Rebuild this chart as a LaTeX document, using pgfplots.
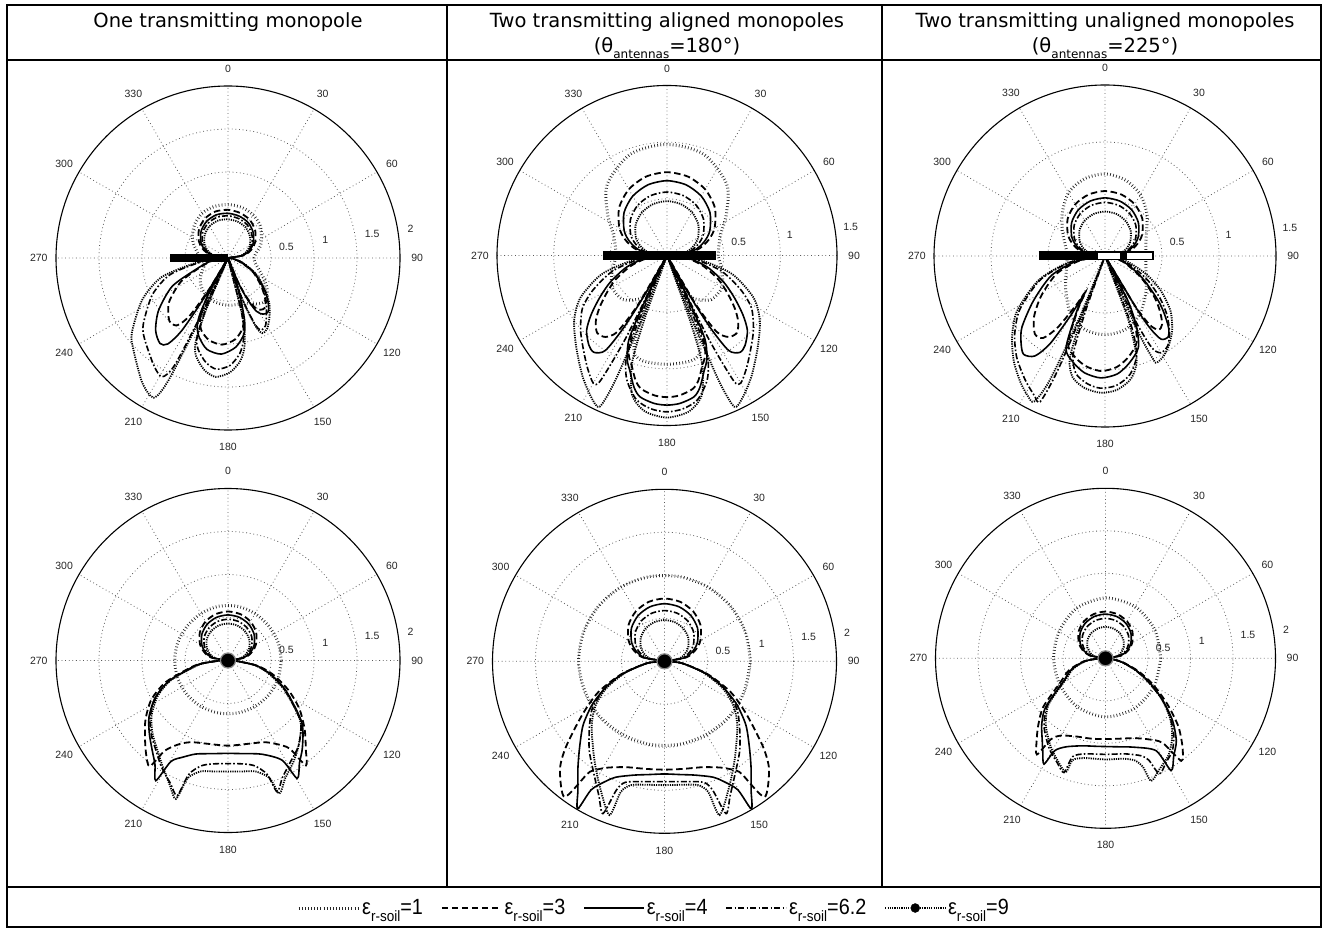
\documentclass[border=0pt]{standalone}
\usepackage{fontspec}
\usepackage{pgfplots}
\pgfplotsset{compat=1.18}
\usepgfplotslibrary{polar}
\setmainfont{Liberation Sans}
\newfontfamily\titlefont{DejaVu Sans}
\newfontfamily\narrowfont[FakeStretch=0.9]{Liberation Sans}
\tikzset{
  e1/.style={black!85, line width=3pt, dash pattern=on 0.7pt off 2.4pt, smooth, tension=0.5},
  e3/.style={black, line width=1.8pt, dash pattern=on 6.5pt off 3.5pt, smooth, tension=0.45},
  e4/.style={black, line width=1.6pt, smooth, tension=0.45},
  e62/.style={black, line width=1.6pt, dash pattern=on 6pt off 2.2pt on 1.6pt off 2.2pt, smooth, tension=0.45},
  e9/.style={black, line width=1.8pt, dash pattern=on 1.2pt off 1.1pt, smooth, tension=0.45},
  lbl/.style={font=\fontsize{10.5}{10.5}\selectfont, text=black!85, inner sep=0pt},
}
\pgfplotsset{
  pp/.style={
    anchor=center, scale only axis, clip=false,
    ymin=0, xtick={0,30,...,330},
    xticklabel={\phantom{0}}, yticklabel={\phantom{0}},
    major tick length=0pt,
    grid=major,
    major grid style={black!65, line width=0.8pt, dash pattern=on 0.8pt off 2.8pt},
    axis line style={black, line width=1.1pt},
    y axis line style={draw=none},
  },
}
\newcommand\anglelabels[1]{%
  \node[lbl] at (axis cs:90,#1) {0};
  \node[lbl] at (axis cs:60,#1) {30};
  \node[lbl] at (axis cs:30,#1) {60};
  \node[lbl] at (axis cs:0,#1) {90};
  \node[lbl] at (axis cs:330,#1) {120};
  \node[lbl] at (axis cs:300,#1) {150};
  \node[lbl] at (axis cs:270,#1) {180};
  \node[lbl] at (axis cs:240,#1) {210};
  \node[lbl] at (axis cs:210,#1) {240};
  \node[lbl] at (axis cs:180,#1) {270};
  \node[lbl] at (axis cs:150,#1) {300};
  \node[lbl] at (axis cs:120,#1) {330};
}
\newcommand\rlabelsTwo{%
  \node[lbl] at (axis cs:10.5,0.69) {0.5};
  \node[lbl] at (axis cs:10.3,1.15) {1};
  \node[lbl] at (axis cs:9.5,1.70) {1.5};
  \node[lbl] at (axis cs:9,2.15) {2};
}
\newcommand\rlabelsOneHalf{%
  \node[lbl] at (axis cs:11,0.645) {0.5};
  \node[lbl] at (axis cs:9.7,1.10) {1};
  \node[lbl] at (axis cs:8.7,1.64) {1.5};
}
\newcommand\esoil[1]{ε\raisebox{-0.32em}{\fontsize{15}{15}\selectfont r-soil}=#1}
\newcommand\thsub[1]{(θ\raisebox{-0.3em}{\fontsize{12}{12}\selectfont antennas}=#1°)}
\begin{document}
\begin{tikzpicture}
\path (0pt,0pt) rectangle (1324pt,930pt);
% frame
\draw[line width=1.5pt] (7pt,925pt) rectangle (1321pt,3pt);
\draw[line width=1.5pt] (7pt,870pt) -- (1321pt,870pt);
\draw[line width=1.5pt] (7pt,43pt) -- (1321pt,43pt);
\draw[line width=1.5pt] (447pt,925pt) -- (447pt,43pt);
\draw[line width=1.5pt] (882pt,925pt) -- (882pt,43pt);
% titles
\begin{scope}[every node/.style={font=\titlefont\fontsize{19.5}{19.5}\selectfont, inner sep=0pt, anchor=base}]
\node at (228pt,902pt) {One transmitting monopole};
\node at (667pt,902pt) {Two transmitting aligned monopoles};
\node at (667pt,877pt) {\thsub{180}};
\node at (1105pt,902pt) {Two transmitting unaligned monopoles};
\node at (1105pt,877pt) {\thsub{225}};
\end{scope}

% ================= A =================
\begin{polaraxis}[pp, at={(228pt,672pt)}, width=344pt, height=344pt, ymax=2, ytick={0.5,1,1.5}]
\addplot[e1] coordinates {(0,0.3) (10,0.33) (20,0.4) (30,0.45) (45,0.53) (60,0.58) (75,0.61) (90,0.62) (105,0.62) (120,0.6) (135,0.55) (150,0.48) (160,0.42) (170,0.36) (180,0.32) (190,0.3) (200,0.3) (210,0.36) (220,0.42) (230,0.47) (240,0.5) (250,0.53) (260,0.54) (270,0.55) (280,0.55) (290,0.56) (300,0.62) (310,0.66) (320,0.6) (330,0.48) (340,0.38) (350,0.32) (360,0.3)};
\addplot[e3] coordinates {(0,0) (10,0.196) (20,0.291) (30,0.364) (45,0.448) (60,0.51) (75,0.543) (90,0.56) (105,0.56) (120,0.532) (135,0.476) (150,0.392) (160,0.314) (170,0.207) (180,0) (190,0.19) (200,0.38) (207,0.62) (217,0.86) (227,1.0) (233,0.98) (236.5,0.8) (239,0.4) (240.3,0.02) (241.5,0.42) (243.5,0.68) (246,0.8) (250,0.9) (257,0.98) (266,1.01) (275,0.95) (282,0.83) (285,0.68) (287.5,0.42) (290.3,0.02) (292.5,0.28) (295,0.48) (298,0.64) (302,0.71) (307,0.72) (313,0.63) (319,0.52) (326,0.4) (333,0.3) (345,0.12) (355,0.03) (360,0)};
\addplot[e4] coordinates {(0,0) (10,0.182) (20,0.27) (30,0.338) (45,0.416) (60,0.473) (75,0.504) (90,0.52) (105,0.52) (120,0.494) (135,0.442) (150,0.364) (160,0.291) (170,0.192) (180,0) (190,0.2) (200,0.41) (207,0.73) (217,1.01) (225,1.19) (231.5,1.27) (235,1.22) (237.5,1.0) (239,0.55) (240.3,0.02) (241.5,0.45) (243.5,0.74) (246,0.88) (250,0.98) (257,1.09) (266,1.12) (275,1.04) (282,0.9) (285,0.74) (287.5,0.45) (290.3,0.02) (292.5,0.3) (295,0.52) (298,0.7) (302,0.77) (307,0.78) (313,0.68) (319,0.56) (326,0.42) (333,0.31) (345,0.13) (355,0.03) (360,0)};
\addplot[e62] coordinates {(0,0) (10,0.172) (20,0.255) (30,0.319) (45,0.392) (60,0.446) (75,0.475) (90,0.49) (105,0.49) (120,0.466) (135,0.417) (150,0.343) (160,0.274) (170,0.181) (180,0) (188,0.3) (196,0.7) (206,0.98) (218,1.25) (224,1.35) (235.5,1.52) (241,1.58) (243.5,1.4) (244.5,0.8) (245.5,0.02) (246.5,0.6) (248.5,0.98) (252,1.12) (258,1.24) (264,1.3) (271,1.25) (277,1.12) (281,0.95) (284,0.65) (286.5,0.02) (289,0.48) (292,0.82) (294.4,0.92) (299,0.9) (305,0.78) (312,0.66) (320,0.52) (330,0.36) (342,0.18) (355,0.04) (360,0)};
\addplot[e9] coordinates {(0,0) (10,0.158) (20,0.234) (30,0.293) (45,0.36) (60,0.41) (75,0.437) (90,0.45) (105,0.45) (120,0.428) (135,0.383) (150,0.315) (160,0.252) (170,0.167) (180,0) (188,0.35) (196,0.8) (206,1.11) (218,1.42) (224,1.53) (235.5,1.76) (242,1.84) (244,1.6) (245,0.9) (246,0.02) (247,0.65) (249,1.05) (252,1.2) (258,1.33) (264,1.39) (271,1.33) (277,1.2) (281,1.02) (284,0.7) (286.5,0.02) (289,0.5) (292,0.85) (294.4,0.96) (299,0.94) (305,0.84) (312,0.72) (320,0.56) (330,0.38) (342,0.18) (355,0.04) (360,0)};
\addplot[black, line width=8.5pt] coordinates {(180,0.67) (0,0)};
\anglelabels{2.2}
\rlabelsTwo
\end{polaraxis}

% ================= B =================
\begin{polaraxis}[pp, at={(667pt,674.5pt)}, width=340pt, height=340pt, ymax=1.5, ytick={0.5,1}]
\addplot[e1] coordinates {(0,0.45) (20,0.5) (35,0.64) (50,0.82) (70,0.95) (90,0.98) (110,0.95) (130,0.82) (145,0.64) (160,0.5) (180,0.45) (195,0.5) (210,0.56) (225,0.55) (238,0.45) (245,0.35) (250,0.85) (256,0.95) (270,0.96) (284,0.95) (290,0.85) (295,0.35) (302,0.45) (315,0.55) (330,0.56) (345,0.5) (360,0.45)};
\addplot[e3] coordinates {(0,0) (10,0.257) (20,0.386) (30,0.485) (45,0.597) (60,0.674) (75,0.72) (90,0.735) (105,0.72) (120,0.674) (135,0.597) (150,0.485) (160,0.386) (170,0.257) (180,0) (188,0.18) (196,0.33) (205,0.5) (212,0.63) (218,0.76) (223,0.86) (228,0.92) (233,0.9) (237,0.8) (239.5,0.5) (242.5,0.02) (244.5,0.4) (246,0.78) (249,0.94) (252.2,1.02) (256,1.14) (259.2,1.2) (265,1.24) (270,1.25) (275,1.24) (280.8,1.2) (284,1.14) (287.8,1.02) (291,0.94) (294,0.78) (295.5,0.4) (297.5,0.02) (300.5,0.5) (303,0.8) (307,0.9) (312,0.92) (317,0.86) (322,0.76) (328,0.63) (335,0.5) (344,0.33) (352,0.18) (360,0)};
\addplot[e4] coordinates {(0,0) (10,0.231) (20,0.347) (30,0.436) (45,0.536) (60,0.605) (75,0.646) (90,0.66) (105,0.646) (120,0.605) (135,0.536) (150,0.436) (160,0.347) (170,0.231) (180,0) (188,0.2) (196,0.37) (205,0.55) (212,0.7) (218,0.85) (223,0.97) (229,1.05) (233,1.07) (237,1.0) (239,0.75) (240.5,0.4) (242.5,0.02) (244,0.4) (245.5,0.8) (249,0.98) (252.2,1.07) (256,1.2) (259.2,1.27) (265,1.31) (270,1.32) (275,1.31) (280.8,1.27) (284,1.2) (287.8,1.07) (291,0.98) (294.5,0.8) (296,0.4) (297.5,0.02) (299.5,0.4) (301,0.75) (303,1.0) (307,1.07) (311,1.05) (317,0.97) (322,0.85) (328,0.7) (335,0.55) (344,0.37) (352,0.2) (360,0)};
\addplot[e62] coordinates {(0,0) (10,0.196) (20,0.294) (30,0.37) (45,0.455) (60,0.514) (75,0.548) (90,0.56) (105,0.548) (120,0.514) (135,0.455) (150,0.37) (160,0.294) (170,0.196) (180,0) (188,0.25) (196,0.5) (205,0.72) (212,0.88) (221,1.01) (229,1.12) (235,1.22) (240,1.3) (242,1.25) (243.5,0.8) (245,0.02) (246.5,0.6) (248,0.95) (252,1.15) (258,1.3) (264,1.36) (270,1.38) (276,1.36) (282,1.3) (288,1.15) (292,0.95) (293.5,0.6) (295,0.02) (296.5,0.8) (298,1.25) (300,1.3) (305,1.22) (311,1.12) (319,1.01) (328,0.88) (335,0.72) (344,0.5) (352,0.25) (360,0)};
\addplot[e9] coordinates {(0,0) (10,0.168) (20,0.252) (30,0.317) (45,0.39) (60,0.44) (75,0.47) (90,0.48) (105,0.47) (120,0.44) (135,0.39) (150,0.317) (160,0.252) (170,0.168) (180,0) (188,0.3) (196,0.6) (206,0.85) (215,1.0) (225.4,1.14) (235,1.3) (242,1.42) (246,1.46) (247.5,1.2) (248.5,0.6) (249.5,0.02) (250.5,0.6) (252,1.0) (256,1.27) (262,1.39) (270,1.43) (278,1.39) (284,1.27) (288,1.0) (289.5,0.6) (290.5,0.02) (291.5,0.6) (292.5,1.2) (294,1.46) (298,1.42) (305,1.3) (314.6,1.14) (325,1.0) (334,0.85) (344,0.6) (352,0.3) (360,0)};
\addplot[black, line width=9pt] coordinates {(180,0.565) (0,0.432)};
\anglelabels{1.65}
\rlabelsOneHalf
\end{polaraxis}

% ================= C =================
\begin{polaraxis}[pp, at={(1105pt,674pt)}, width=342pt, height=342pt, ymax=1.5, ytick={0.5,1}]
\addplot[e1] coordinates {(0,0.36) (15,0.37) (30,0.42) (45,0.52) (60,0.62) (75,0.69) (90,0.72) (105,0.7) (120,0.64) (135,0.53) (150,0.43) (165,0.36) (180,0.33) (200,0.36) (220,0.45) (240,0.6) (255,0.67) (270,0.69) (285,0.67) (300,0.6) (315,0.5) (330,0.42) (345,0.37) (360,0.36)};
\addplot[e3] coordinates {(0,0) (10,0.2) (20,0.299) (30,0.376) (45,0.463) (60,0.523) (75,0.558) (90,0.57) (105,0.558) (120,0.523) (135,0.463) (150,0.376) (160,0.299) (170,0.2) (180,0) (190,0.22) (200,0.45) (212,0.66) (220.6,0.82) (228,0.92) (233,0.9) (236.5,0.75) (239.5,0.5) (241.5,0.36) (243,0.52) (247,0.83) (253,0.92) (260,0.98) (268,1.01) (276,0.98) (283,0.91) (290,0.81) (294,0.64) (297,0.42) (299.5,0.05) (301,0.5) (303,0.72) (306,0.8) (310,0.78) (315,0.68) (320,0.57) (326,0.43) (332,0.31) (342,0.17) (352,0.06) (360,0)};
\addplot[e4] coordinates {(0,0) (10,0.179) (20,0.268) (30,0.337) (45,0.414) (60,0.468) (75,0.499) (90,0.51) (105,0.499) (120,0.468) (135,0.414) (150,0.337) (160,0.268) (170,0.179) (180,0) (190,0.25) (200,0.5) (212,0.74) (220.6,0.96) (226,1.06) (230.4,1.12) (235,1.07) (238,0.9) (240,0.6) (241.5,0.38) (243,0.55) (247,0.876) (253,0.97) (260,1.04) (268,1.07) (276,1.04) (283,0.96) (290,0.855) (294,0.68) (297,0.45) (299.5,0.05) (301,0.55) (302,0.75) (304,0.88) (308,0.9) (311.6,0.84) (316,0.72) (320,0.61) (326,0.45) (332,0.33) (342,0.18) (352,0.06) (360,0)};
\addplot[e62] coordinates {(0,0) (10,0.165) (20,0.247) (30,0.31) (45,0.382) (60,0.431) (75,0.46) (90,0.47) (105,0.46) (120,0.431) (135,0.382) (150,0.31) (160,0.247) (170,0.165) (180,0) (190,0.3) (200,0.6) (212,0.88) (221,1.05) (229,1.18) (237,1.29) (243,1.37) (246,1.4) (247.5,1.1) (248.5,0.5) (249.5,0.02) (250.5,0.5) (252,0.9) (256,1.06) (262,1.13) (268,1.16) (275,1.14) (282,1.06) (288,0.9) (291,0.6) (293,0.03) (295,0.6) (297,0.9) (300,0.98) (305,0.96) (310,0.88) (316,0.76) (322,0.62) (330,0.44) (340,0.24) (352,0.07) (360,0)};
\addplot[e9] coordinates {(0,0) (10,0.137) (20,0.205) (30,0.257) (45,0.317) (60,0.358) (75,0.382) (90,0.39) (105,0.382) (120,0.358) (135,0.317) (150,0.257) (160,0.205) (170,0.137) (180,0) (190,0.32) (200,0.62) (212,0.91) (221,1.08) (229,1.22) (236,1.33) (241,1.4) (244,1.42) (246,1.2) (247.5,0.6) (248.5,0.02) (249.5,0.6) (251,0.95) (255,1.1) (261,1.17) (268,1.2) (275,1.18) (282,1.1) (287,0.95) (290,0.6) (292,0.03) (293.5,0.7) (295,1.0) (296,1.04) (300,1.02) (305,0.97) (312,0.88) (320,0.75) (328,0.58) (336,0.4) (346,0.2) (355,0.05) (360,0)};
\addplot[black, line width=9pt] coordinates {(180,0.583) (0,0.429)};
\addplot[white, line width=6.2pt] coordinates {(180,0.06) (0,0.41)};
\addplot[black, line width=9pt] coordinates {(0,0.13) (0,0.19)};
\anglelabels{1.65}
\rlabelsOneHalf
\end{polaraxis}

% ================= D =================
\begin{polaraxis}[pp, at={(228pt,269.5pt)}, width=344pt, height=344pt, ymax=2, ytick={0.5,1,1.5}]
\addplot[e1] coordinates {(0,0.62) (20,0.62) (40,0.62) (60,0.63) (80,0.64) (100,0.64) (120,0.63) (140,0.62) (160,0.62) (180,0.62) (200,0.62) (220,0.62) (240,0.62) (260,0.62) (280,0.62) (300,0.62) (320,0.62) (340,0.62) (360,0.62)};
\addplot[e3] coordinates {(0,0) (10,0.2) (20,0.299) (30,0.376) (45,0.463) (60,0.523) (75,0.558) (90,0.57) (105,0.558) (120,0.523) (135,0.463) (150,0.376) (160,0.299) (170,0.2) (180,0) (182,0.1) (185,0.23) (189,0.4) (199,0.76) (207,1.0) (215.6,1.18) (223,1.32) (229,1.45) (233.5,1.53) (235,1.28) (240,1.12) (246,1.04) (255,1.0) (270,0.99) (285,1.0) (294,1.04) (300,1.12) (305,1.25) (306.6,1.52) (311,1.38) (318,1.2) (326,1.0) (334,0.78) (343,0.54) (350,0.34) (358,0.08) (360,0)};
\addplot[e4] coordinates {(0,0) (10,0.186) (20,0.278) (30,0.35) (45,0.43) (60,0.486) (75,0.519) (90,0.53) (105,0.519) (120,0.486) (135,0.43) (150,0.35) (160,0.278) (170,0.186) (180,0) (182,0.1) (185,0.22) (189,0.38) (199,0.72) (207,0.95) (215.6,1.13) (223,1.25) (229.5,1.36) (235,1.48) (239,1.63) (240.5,1.35) (245,1.24) (251,1.15) (260,1.1) (270,1.08) (280,1.1) (290,1.16) (298.5,1.32) (300.4,1.59) (305,1.45) (310.6,1.33) (320,1.12) (332.5,0.76) (342,0.52) (350,0.33) (358,0.08) (360,0)};
\addplot[e62] coordinates {(0,0) (10,0.168) (20,0.252) (30,0.317) (45,0.39) (60,0.44) (75,0.47) (90,0.48) (105,0.47) (120,0.44) (135,0.39) (150,0.317) (160,0.252) (170,0.168) (180,0) (182,0.1) (185,0.22) (189,0.38) (199,0.72) (207,0.94) (216,1.12) (224,1.24) (230,1.32) (238,1.46) (245,1.58) (249.4,1.68) (251,1.4) (256,1.26) (263,1.21) (270,1.2) (277,1.21) (284,1.26) (289,1.4) (290.5,1.63) (295,1.5) (302,1.38) (310,1.28) (320,1.1) (332,0.76) (342,0.52) (350,0.33) (358,0.08) (360,0)};
\addplot[e9] coordinates {(0,0) (10,0.151) (20,0.226) (30,0.284) (45,0.349) (60,0.394) (75,0.421) (90,0.43) (105,0.421) (120,0.394) (135,0.349) (150,0.284) (160,0.226) (170,0.151) (180,0) (182,0.1) (185,0.21) (189,0.36) (199,0.7) (207,0.92) (216,1.1) (224,1.22) (230,1.3) (238,1.44) (245,1.6) (249.4,1.72) (251,1.45) (256,1.33) (263,1.3) (270,1.29) (277,1.3) (284,1.33) (289.5,1.45) (291.1,1.66) (296,1.52) (303,1.4) (310,1.28) (320,1.1) (332,0.75) (342,0.5) (350,0.32) (358,0.08) (360,0)};
\addplot[only marks, mark=*, mark size=7.5pt, mark options={fill=black, draw=black!45, line width=1.2pt}] coordinates {(0,0)};
\anglelabels{2.2}
\rlabelsTwo
\end{polaraxis}

% ================= E =================
\begin{polaraxis}[pp, at={(664.5pt,268.7pt)}, width=344pt, height=344pt, ymax=2, ytick={0.5,1,1.5}]
\addplot[e1] coordinates {(0,1.0) (20,1.0) (40,1.0) (60,1.0) (80,1.0) (100,1.0) (120,1.0) (140,1.0) (160,1.0) (180,1.0) (200,0.99) (220,0.99) (240,0.98) (260,0.98) (280,0.98) (300,0.98) (320,0.99) (340,0.99) (360,1.0)};
\addplot[e3] coordinates {(0,0) (10,0.256) (20,0.383) (30,0.482) (45,0.593) (60,0.669) (75,0.715) (90,0.73) (105,0.715) (120,0.669) (135,0.593) (150,0.482) (160,0.383) (170,0.256) (180,0) (186,0.2) (196.5,0.52) (205,0.85) (213,1.14) (221,1.52) (226,1.75) (233.6,1.96) (235.5,1.6) (236.7,1.52) (242,1.4) (250,1.31) (260,1.27) (270,1.26) (280,1.27) (290,1.31) (298,1.4) (303.3,1.52) (304.5,1.6) (306.4,1.96) (314,1.75) (319,1.52) (327,1.14) (335,0.85) (343.5,0.52) (354,0.2) (360,0)};
\addplot[e4] coordinates {(0,0) (10,0.235) (20,0.352) (30,0.442) (45,0.544) (60,0.614) (75,0.656) (90,0.67) (105,0.656) (120,0.614) (135,0.544) (150,0.442) (160,0.352) (170,0.235) (180,0) (186,0.2) (196.5,0.5) (203,0.72) (210.6,0.97) (218,1.2) (225.2,1.4) (231,1.6) (236,1.8) (239.5,1.99) (240.3,1.72) (244,1.55) (247.3,1.46) (255,1.37) (262,1.33) (270,1.31) (278,1.33) (285,1.37) (292.7,1.46) (296,1.55) (299.7,1.72) (300.5,1.99) (304,1.8) (309,1.6) (314.8,1.4) (322,1.2) (329.4,0.97) (337,0.72) (343.5,0.5) (354,0.2) (360,0)};
\addplot[e62] coordinates {(0,0) (10,0.207) (20,0.31) (30,0.389) (45,0.479) (60,0.541) (75,0.578) (90,0.59) (105,0.578) (120,0.541) (135,0.479) (150,0.389) (160,0.31) (170,0.207) (180,0) (186,0.2) (196.5,0.5) (205,0.78) (213,1.0) (221.2,1.16) (230,1.36) (238.8,1.57) (244,1.74) (248,1.91) (249.5,1.6) (252,1.48) (260,1.42) (270,1.40) (280,1.42) (288,1.48) (290.5,1.6) (292,1.91) (296,1.74) (301.2,1.57) (310,1.36) (318.8,1.16) (327,1.0) (335,0.78) (343.5,0.5) (354,0.2) (360,0)};
\addplot[e9] coordinates {(0,0) (10,0.168) (20,0.252) (30,0.317) (45,0.39) (60,0.44) (75,0.47) (90,0.48) (105,0.47) (120,0.44) (135,0.39) (150,0.317) (160,0.252) (170,0.168) (180,0) (186,0.2) (196.5,0.48) (205,0.75) (213,0.96) (222,1.14) (234.7,1.41) (243,1.65) (250.3,1.9) (251.5,1.6) (255,1.49) (262,1.45) (270,1.44) (278,1.45) (285,1.49) (288.5,1.6) (289.7,1.9) (297,1.65) (305.3,1.41) (318,1.14) (327,0.96) (335,0.75) (343.5,0.48) (354,0.2) (360,0)};
\addplot[only marks, mark=*, mark size=7.5pt, mark options={fill=black, draw=black!45, line width=1.2pt}] coordinates {(0,0)};
\anglelabels{2.2}
\rlabelsTwo
\end{polaraxis}

% ================= F =================
\begin{polaraxis}[pp, at={(1105.5pt,271.7pt)}, width=340pt, height=340pt, ymax=2, ytick={0.5,1,1.5}]
\addplot[e1] coordinates {(0,0.65) (30,0.67) (60,0.7) (90,0.71) (120,0.68) (150,0.63) (180,0.61) (210,0.62) (240,0.66) (270,0.69) (300,0.68) (330,0.66) (360,0.65)};
\addplot[e3] coordinates {(0,0) (10,0.193) (20,0.289) (30,0.363) (45,0.447) (60,0.504) (75,0.538) (90,0.55) (105,0.538) (120,0.504) (135,0.447) (150,0.363) (160,0.289) (170,0.193) (180,0) (182,0.08) (188,0.26) (198,0.45) (208,0.6) (218,0.93) (225,1.12) (230,1.26) (234.5,1.39) (236,1.15) (240,1.05) (250,0.98) (260,0.96) (270,0.95) (280,0.96) (290,1.0) (298,1.08) (304,1.2) (306.5,1.5) (311,1.38) (317,1.17) (323.6,0.9) (331,0.64) (338.4,0.42) (347,0.21) (355,0.06) (360,0)};
\addplot[e4] coordinates {(0,0) (10,0.182) (20,0.273) (30,0.343) (45,0.422) (60,0.477) (75,0.509) (90,0.52) (105,0.509) (120,0.477) (135,0.422) (150,0.343) (160,0.273) (170,0.182) (180,0) (182,0.08) (188,0.25) (198,0.42) (208,0.55) (219.2,0.91) (226,1.08) (232.4,1.22) (236,1.32) (239.8,1.44) (241.2,1.24) (246,1.14) (255.2,1.065) (265,1.04) (276.7,1.048) (288,1.1) (298.7,1.24) (300.3,1.53) (305,1.4) (310.6,1.28) (317,1.08) (323.6,0.84) (331,0.6) (338.4,0.39) (347,0.2) (355,0.06) (360,0)};
\addplot[e62] coordinates {(0,0) (10,0.165) (20,0.247) (30,0.31) (45,0.382) (60,0.431) (75,0.46) (90,0.47) (105,0.46) (120,0.431) (135,0.382) (150,0.31) (160,0.247) (170,0.165) (180,0) (182,0.08) (188,0.24) (198,0.42) (208,0.55) (219,0.88) (228,1.08) (238,1.25) (245,1.35) (250,1.43) (251.5,1.22) (258,1.15) (270,1.13) (282,1.15) (290,1.22) (293,1.3) (295,1.5) (300,1.42) (306,1.34) (312,1.2) (318,1.02) (324,0.82) (331,0.58) (338.4,0.38) (347,0.19) (355,0.06) (360,0)};
\addplot[e9] coordinates {(0,0) (10,0.13) (20,0.194) (30,0.244) (45,0.3) (60,0.339) (75,0.362) (90,0.37) (105,0.362) (120,0.339) (135,0.3) (150,0.244) (160,0.194) (170,0.13) (180,0) (182,0.08) (188,0.24) (198,0.4) (208,0.53) (219,0.86) (228,1.05) (238,1.22) (245,1.33) (250.8,1.42) (252,1.26) (258,1.2) (270,1.19) (280,1.2) (286,1.25) (289,1.35) (290.4,1.54) (296,1.45) (303,1.36) (310,1.22) (317,1.04) (324,0.82) (331,0.58) (338.4,0.38) (347,0.19) (355,0.06) (360,0)};
\addplot[only marks, mark=*, mark size=7.5pt, mark options={fill=black, draw=black!45, line width=1.2pt}] coordinates {(0,0)};
\anglelabels{2.2}
\rlabelsTwo
\end{polaraxis}

% ================= legend =================
\begin{axis}[at={(654pt,22pt)}, anchor=center, hide axis, scale only axis, width=20pt, height=10pt,
  xmin=0, xmax=1, ymin=0, ymax=1,
  legend columns=5,
  legend style={at={(0.5,0.5)}, anchor=center, draw=none, fill=none,
    font=\narrowfont\fontsize{22}{22}\selectfont,
    /tikz/every even column/.append style={column sep=16pt}},
  legend image code/.code={\draw[#1] (0pt,0pt) -- (60pt,0pt);},
]
\addlegendimage{e1}\addlegendentry{\esoil{1}}
\addlegendimage{e3}\addlegendentry{\esoil{3}}
\addlegendimage{e4}\addlegendentry{\esoil{4}}
\addlegendimage{e62}\addlegendentry{\esoil{6.2}}
\addlegendimage{legend image code/.code={\draw[e9] (0pt,0pt) -- (60pt,0pt); \fill[black] (30pt,0pt) circle (4.5pt);}}\addlegendentry{\esoil{9}}
\end{axis}
\end{tikzpicture}
\end{document}
